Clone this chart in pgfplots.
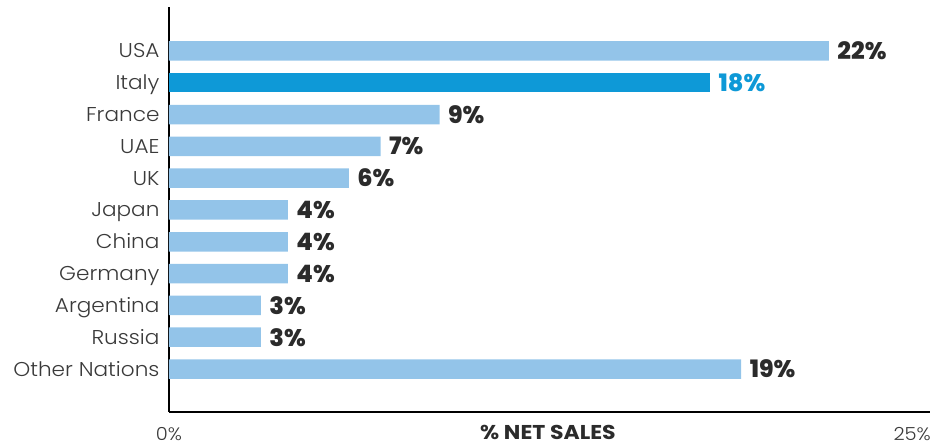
\documentclass[border=0pt]{standalone}
\usepackage{pgfplots}
\pgfplotsset{compat=1.18}
\usepackage{fontspec}
\setmainfont{Poppins}[UprightFont=* Light, BoldFont=* Bold, FakeStretch=1.08]
\newfontfamily\heavyfont{Poppins}[UprightFont=* ExtraBold]
\newfontfamily\condfont{Poppins}[UprightFont=* Bold, FakeStretch=1.1]

\definecolor{lightbar}{RGB}{147,196,233}
\definecolor{italyblue}{RGB}{14,153,215}
\definecolor{labelgray}{RGB}{58,58,58}
\definecolor{valuedark}{RGB}{43,43,43}

\begin{document}
\begin{tikzpicture}
\useasboundingbox (-169pt,-34pt) rectangle (768pt,412pt);
\begin{axis}[
scale only axis,
width=761pt, height=405pt,
xmin=0, xmax=25.6,
ymin=-1.35, ymax=11.38,
axis x line=bottom, axis y line=left,
axis line style={-, line width=2.5pt, black},
xtick={0,25}, xticklabels={0\%,25\%},
ytick={0,...,10},
yticklabels={Other Nations,Russia,Argentina,Germany,China,Japan,UK,UAE,France,Italy,USA},
major tick length=0pt,
tick label style={font=\fontsize{20}{20}\selectfont, text=labelgray},
xticklabel style={anchor=center, yshift=-22pt, font=\fontsize{18}{18}\selectfont},
yticklabel style={anchor=base east, xshift=-6pt, yshift=-7pt},
xlabel={\condfont\% NET SALES},
xlabel style={at={(axis description cs:0.498,0)}, anchor=center, yshift=-20pt,
  font=\fontsize{20}{20}\selectfont, text=valuedark},
xbar,
bar width=19.5pt,
nodes near coords,
point meta=explicit symbolic,
nodes near coords style={anchor=west, xshift=5pt,
  font=\heavyfont\fontsize{24}{24}\selectfont},
]
\addplot[fill=lightbar, draw=none, bar shift=0pt,
  every node near coord/.append style={text=valuedark}]
coordinates {
(22.2,10) [22\%]
(9.1,8) [9\%]
(7.12,7) [7\%]
(6.05,6) [6\%]
(4.0,5) [4\%]
(4.0,4) [4\%]
(4.0,3) [4\%]
(3.09,2) [3\%]
(3.09,1) [3\%]
(19.25,0) [19\%]
};
\addplot[fill=italyblue, draw=none, bar shift=0pt,
  every node near coord/.append style={text=italyblue}]
coordinates {
(18.2,9) [18\%]
};
\end{axis}
\end{tikzpicture}
\end{document}
